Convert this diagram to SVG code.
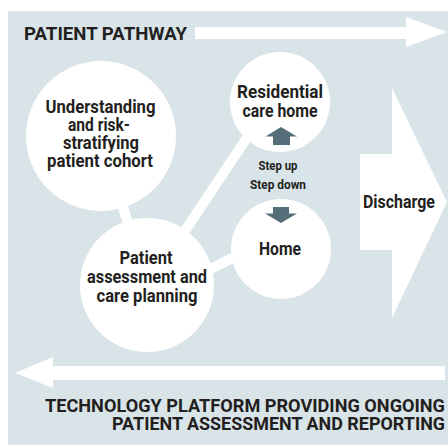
<svg xmlns="http://www.w3.org/2000/svg" width="448" height="445" viewBox="0 0 448 445">
  <defs>
    <style>
      .bg { fill: #d9e4e9; }
      .node { fill: #ffffff; }
      .banner { fill: #ffffff; }
      .link { stroke: #ffffff; stroke-width: 10; fill: none; }
      .step { fill: #566d7a; }
      .lbl { font-family: Roboto, "Liberation Sans", "DejaVu Sans", sans-serif; font-weight: 700; fill: #231f20; text-anchor: middle; }
      .head { font-family: Roboto, "Liberation Sans", "DejaVu Sans", sans-serif; font-weight: 700; fill: #231f20; }
      .n { font-size: 17.5px; }
      .s { font-size: 13px; }
      .h { font-size: 18.5px; }
      .b { font-size: 19px; }
    </style>
  </defs>

  <!-- panel -->
  <rect class="bg" x="8" y="11" width="440" height="434"/>

  <!-- pathway banner arrow (forward) -->
  <polygon class="banner" points="195,27 406,27 406,17 447,32 406,47 406,39 195,39"/>
  <text class="head h" x="24" y="40" textLength="163" lengthAdjust="spacingAndGlyphs">PATIENT PATHWAY</text>

  <!-- connectors -->
  <g id="connectors">
    <line class="link" x1="101" y1="136" x2="147" y2="285"/>
    <line class="link" x1="149" y1="285" x2="270" y2="103"/>
    <line class="link" x1="195" y1="277" x2="250" y2="249"/>
  </g>

  <!-- nodes -->
  <g id="understanding">
    <circle class="node" cx="101" cy="136" r="75"/>
    <text class="lbl n" x="100.5" y="113" textLength="110" lengthAdjust="spacingAndGlyphs">Understanding</text>
    <text class="lbl n" x="99" y="131" textLength="62" lengthAdjust="spacingAndGlyphs">and risk-</text>
    <text class="lbl n" x="101" y="149" textLength="76" lengthAdjust="spacingAndGlyphs">stratifying</text>
    <text class="lbl n" x="100" y="167" textLength="106" lengthAdjust="spacingAndGlyphs">patient cohort</text>
  </g>

  <g id="assessment">
    <circle class="node" cx="147" cy="285" r="67"/>
    <text class="lbl n" x="146" y="264" textLength="53" lengthAdjust="spacingAndGlyphs">Patient</text>
    <text class="lbl n" x="147" y="283" textLength="120" lengthAdjust="spacingAndGlyphs">assessment and</text>
    <text class="lbl n" x="147" y="302" textLength="101" lengthAdjust="spacingAndGlyphs">care planning</text>
  </g>

  <g id="residential">
    <circle class="node" cx="280" cy="102" r="50"/>
    <text class="lbl n" x="280" y="98" textLength="86" lengthAdjust="spacingAndGlyphs">Residential</text>
    <text class="lbl n" x="280" y="117" textLength="75" lengthAdjust="spacingAndGlyphs">care home</text>
    <path class="step" d="M281,127 L297,136.5 H290 V145 H273 V136.5 H265.5 Z"/>
  </g>

  <g id="home">
    <circle class="node" cx="281" cy="249" r="50"/>
    <path class="step" d="M273,207 H289 V213.5 H297 L281,223 L265,213.5 H273 Z"/>
    <text class="lbl n" x="280" y="255" textLength="42" lengthAdjust="spacingAndGlyphs">Home</text>
  </g>

  <g id="step-labels">
    <text class="lbl s" x="278" y="170" textLength="39" lengthAdjust="spacingAndGlyphs">Step up</text>
    <text class="lbl s" x="278" y="189" textLength="56" lengthAdjust="spacingAndGlyphs">Step down</text>
  </g>

  <g id="discharge">
    <polygon class="banner" points="360,154 392,154 392,88 447,202 392,318 392,250 360,250"/>
    <text class="lbl h" x="399" y="208" textLength="72" lengthAdjust="spacingAndGlyphs">Discharge</text>
  </g>

  <!-- platform banner arrow (return) -->
  <polygon class="banner" points="445,366 53,366 53,357 15,373 53,388 53,380 445,380"/>
  <text class="head b" x="445" y="412" text-anchor="end" textLength="400" lengthAdjust="spacingAndGlyphs">TECHNOLOGY PLATFORM PROVIDING ONGOING</text>
  <text class="head b" x="445" y="430" text-anchor="end" textLength="333" lengthAdjust="spacingAndGlyphs">PATIENT ASSESSMENT AND REPORTING</text>
</svg>
